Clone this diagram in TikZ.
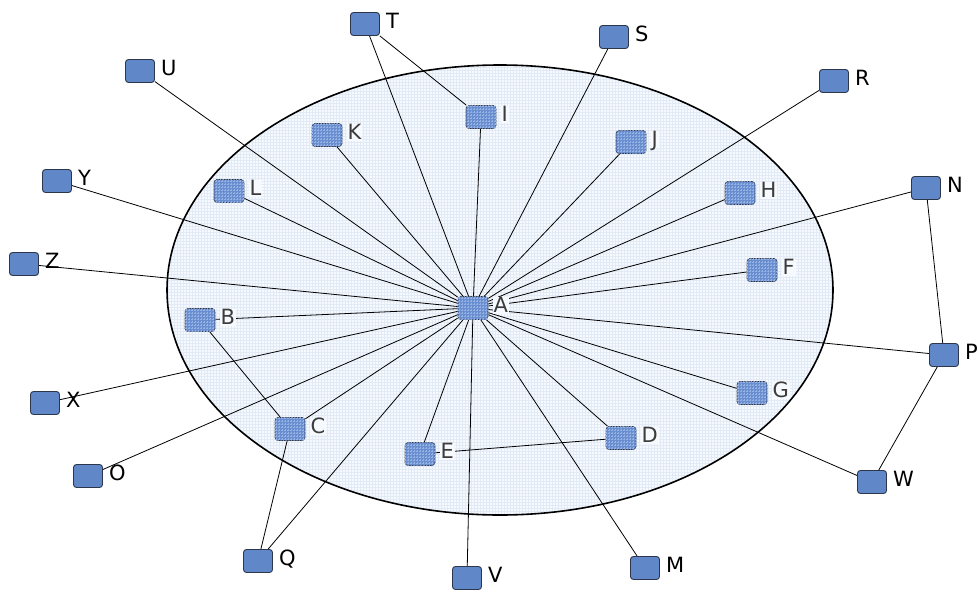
\documentclass[tikz,border=0pt]{standalone}
\usepackage{fontspec}
\setmainfont{DejaVu Sans}
\usetikzlibrary{patterns}
\definecolor{outerfill}{RGB}{96,136,200}
\definecolor{innerfill}{RGB}{104,142,208}
\definecolor{innergrid}{RGB}{150,178,228}
\definecolor{ellfill}{RGB}{246,249,253}
\definecolor{ellgrid}{RGB}{226,234,246}
\definecolor{boxborder}{RGB}{45,55,75}
\definecolor{innertext}{RGB}{60,60,60}
\pgfdeclarelayer{bg}
\pgfdeclarelayer{edges}
\pgfsetlayers{bg,edges,main}
\tikzset{
  obox/.style={draw=boxborder, line width=0.9pt, fill=outerfill, rounded corners=3pt,
    minimum width=29pt, minimum height=23pt, inner sep=0pt},
  ibox/.style={draw=boxborder, line width=0.7pt, dash pattern=on 1pt off 0.6pt, fill=innerfill,
    postaction={pattern=grid, pattern color=innergrid}, rounded corners=3pt,
    minimum width=30pt, minimum height=23pt, inner sep=0pt},
  olbl/.style={anchor=west, xshift=5pt, yshift=3pt, inner sep=1pt,
    text height=15pt, text depth=0pt, font=\fontsize{21}{25}\selectfont, text=black},
  ilbl/.style={anchor=west, xshift=4pt, yshift=3pt, inner sep=1pt, fill=ellfill,
    text height=15pt, text depth=0pt, font=\fontsize{21}{25}\selectfont, text=innertext},
  conn/.style={draw=black, line width=0.8pt},
  ellarea/.style={fill=ellfill, postaction={pattern=grid, pattern color=ellgrid}},
  ellrim/.style={draw=black, line width=1.6pt}
}
\begin{document}
\begin{tikzpicture}[x=1pt, y=-1pt]
\useasboundingbox (0,0) rectangle (978,592);
\begin{pgfonlayer}{bg}
  \path[ellarea] (500,290) ellipse [x radius=333pt, y radius=225pt];
  \path[ellrim] (500,290) ellipse [x radius=333pt, y radius=225pt];
\end{pgfonlayer}
\foreach \n/\x/\y in {T/365/24, S/614/37, R/834/81, U/140/71, Y/57/181, Z/24/264,
  X/45/403, O/88/476, Q/258/561, V/467/578, M/645/568, W/872/482, P/944/355, N/926/188} {
  \node[obox] (\n) at (\x,\y) {};
  \node[olbl] (\n-l) at (\n.east) {\n};
}
\foreach \n/\x/\y in {A/473/308, I/481/117, K/327/135, J/631/142, L/229/191, H/740/193,
  F/762/270, B/200/320, G/752/393, C/290/429, D/621/438, E/420/454} {
  \node[ibox] (\n) at (\x,\y) {};
  \node[ilbl] (\n-l) at (\n.east) {\n};
}
\begin{pgfonlayer}{edges}
  \foreach \t in {T,I,S,R,U,K,J,H,N,F,L,Y,Z,B,X,O,Q,C,E,V,D,M,W,G,P} {
    \draw[conn] (A) -- (\t);
  }
  \draw[conn] (T) -- (I);
  \draw[conn] (B) -- (C);
  \draw[conn] (C) -- (Q);
  \draw[conn] (E) -- (D);
  \draw[conn] (N) -- (P);
  \draw[conn] (P) -- (W);
\end{pgfonlayer}
\end{tikzpicture}
\end{document}
